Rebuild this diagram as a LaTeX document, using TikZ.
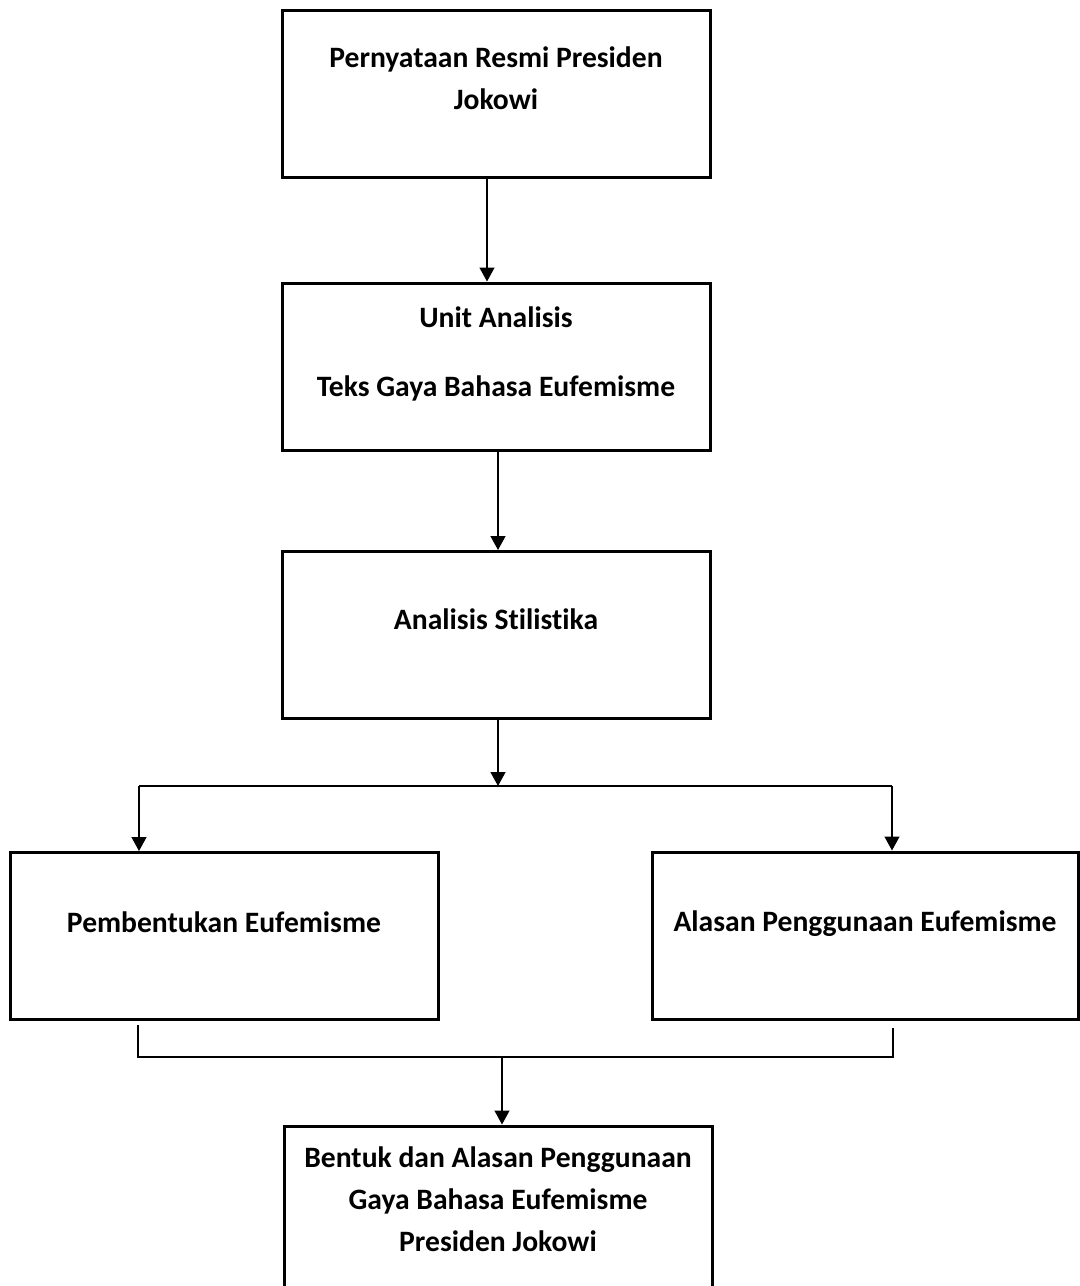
\documentclass[tikz,border=0pt]{standalone}
\usepackage{fontspec}
\setmainfont{Carlito}[Ligatures = NoCommon]
\usetikzlibrary{positioning,arrows.meta}

\begin{document}
\begin{tikzpicture}[x = 0.5pt, y = -0.5pt,
    box/.style = { draw, line width = 1.5pt, minimum width = 214pt, minimum height = 83.5pt, inner sep = 0pt },
    txt/.style = { align = center, inner sep = 0pt, font = \bfseries\fontsize{14.8}{21}\selectfont },
    conn/.style = { line width = 0.65pt },
    arr/.style = { conn, -{Triangle[width = 7.5pt, length = 7pt]} }]
    \useasboundingbox (0,0) rectangle (1080,1286);

    % boxes
    \node [box] (b1) at (496,93.5) {};
    \node [box] (b2) at (496,366.5) {};
    \node [box] (b3) at (496,635) {};
    \node [box] (b4) at (224,936) {};
    \node [box, minimum width = 213pt] (b5) at (865,935.5) {};
    \node [box] (b6) at (498,1209.5) {};

    % texts
    \node [txt, below = 18.7pt of b1.north] (t1) {Pernyataan Resmi Presiden\\Jokowi};
    \node [txt, below = 12.5pt of b2.north] (t2) {Unit Analisis\\[13.5pt]Teks Gaya Bahasa Eufemisme};
    \node [txt, below = 29.2pt of b3.north] (t3) {Analisis Stilistika};
    \node [txt, below = 30.2pt of b4.north] (t4) {Pembentukan Eufemisme};
    \node [txt, below = 29.7pt of b5.north] (t5) {Alasan Penggunaan Eufemisme};
    \node [txt, below = 11pt of b6.north] (t6) {Bentuk dan Alasan Penggunaan\\Gaya Bahasa Eufemisme\\Presiden Jokowi};

    % arrows
    \draw [arr] ([xshift = -4.5pt] b1.south) -- ([xshift = -4.5pt] b2.north);
    \draw [arr] ([xshift = 1pt] b2.south) -- ([xshift = 1pt] b3.north);

    \coordinate (split) at (498,786);
    \coordinate (sl) at (139,786);
    \coordinate (sr) at (892,786);
    \draw [arr] ([xshift = 1pt] b3.south) -- (split);
    \draw [conn] (sl) -- (sr);
    \draw [arr] (sl) -- (sl |- b4.north);
    \draw [arr] (sr) -- (sr |- b5.north);

    \coordinate (jl) at (138,1025);
    \coordinate (jr) at (893,1028);
    \coordinate (join) at (502,1057);
    \draw [conn] (jl) |- (join) -| (jr);
    \draw [arr] (join) -- (join |- b6.north);
\end{tikzpicture}
\end{document}
